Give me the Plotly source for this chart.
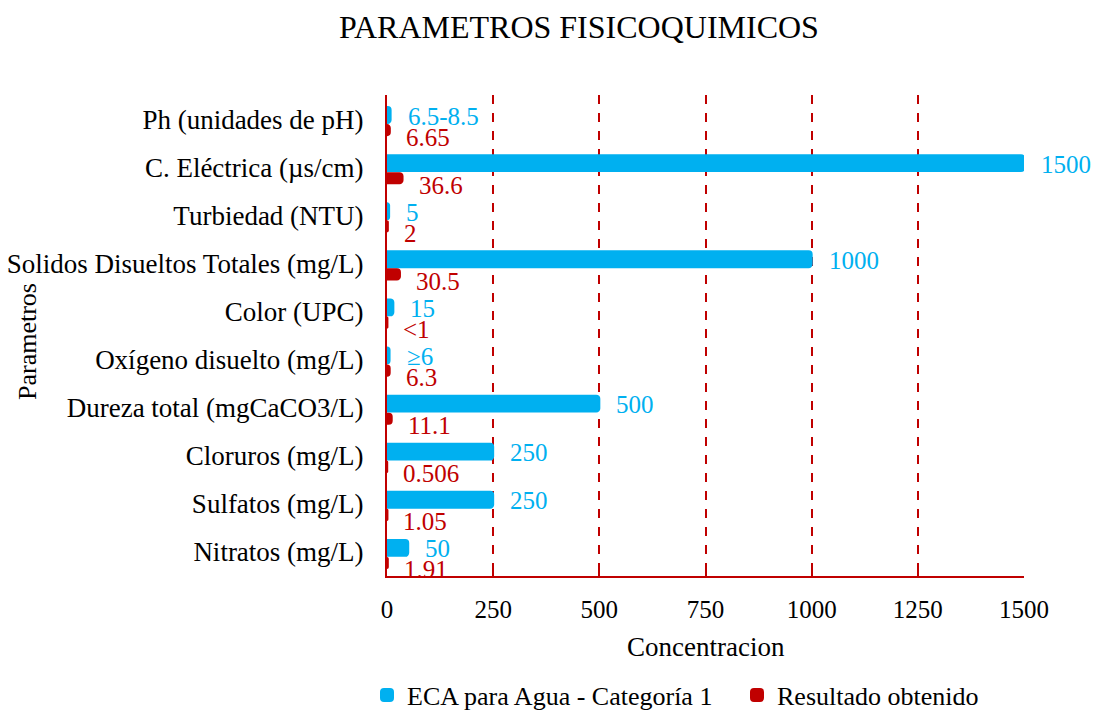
import plotly.graph_objects as go

categories = [
    "Ph (unidades de pH)",
    "C. Eléctrica (µs/cm)",
    "Turbiedad (NTU)",
    "Solidos Disueltos Totales (mg/L)",
    "Color (UPC)",
    "Oxígeno disuelto (mg/L)",
    "Dureza total (mgCaCO3/L)",
    "Cloruros (mg/L)",
    "Sulfatos (mg/L)",
    "Nitratos (mg/L)",
]
eca_values = [8.5, 1500, 5, 1000, 15, 6, 500, 250, 250, 50]
eca_labels = ["6.5-8.5", "1500", "5", "1000", "15", "≥6", "500", "250", "250", "50"]
res_values = [6.65, 36.6, 2, 30.5, 1, 6.3, 11.1, 0.506, 1.05, 1.91]
res_labels = ["6.65", "36.6", "2", "30.5", "<1", "6.3", "11.1", "0.506", "1.05", "1.91"]
x_ticks = [0, 250, 500, 750, 1000, 1250, 1500]

BLUE = "#00B0F0"
RED = "#C00000"
FONT = "Liberation Serif, Times New Roman, serif"

W, H = 1093, 710
PL, PR, PT, PB = 387, 1024, 95, 576

fig = go.Figure()
fig.add_trace(go.Bar(
    name="ECA para Agua - Categoría 1",
    y=categories, x=eca_values, orientation="h",
    marker=dict(color=BLUE, line=dict(color=BLUE, width=2), cornerradius=3),
    offset=-0.25, width=0.33, legend="legend",
))
fig.add_trace(go.Bar(
    name="Resultado obtenido",
    y=categories, x=res_values, orientation="h",
    marker=dict(color=RED, line=dict(color=RED, width=2), cornerradius=3),
    offset=0.125, width=0.21, legend="legend2",
))

annotations = []
for c, v, t in zip(categories, eca_values, eca_labels):
    annotations.append(dict(x=v, y=c, xref="x", yref="y", text=t, showarrow=False,
                            xanchor="left", yanchor="middle", xshift=15, yshift=3,
                            font=dict(family=FONT, size=25, color=BLUE)))
for c, v, t in zip(categories, res_values, res_labels):
    annotations.append(dict(x=v, y=c, xref="x", yref="y", text=t, showarrow=False,
                            xanchor="left", yanchor="middle", xshift=14, yshift=-18,
                            font=dict(family=FONT, size=25, color=RED)))
annotations.append(dict(x=(27 - PL) / (PR - PL), y=1 - (342 - PT) / (PB - PT),
                        xref="paper", yref="paper",
                        text="Parametros", textangle=-90, showarrow=False,
                        xanchor="center", yanchor="middle",
                        font=dict(family=FONT, size=26, color="black")))
annotations.append(dict(x=0.5, y=-(647 - PB) / (PB - PT),
                        xref="paper", yref="paper",
                        text="Concentracion", showarrow=False,
                        xanchor="center", yanchor="middle",
                        font=dict(family=FONT, size=27, color="black")))

legend_style = dict(orientation="h", xref="container", yref="container",
                    xanchor="left", y=1 - 695 / H, yanchor="middle",
                    font=dict(family=FONT, size=26, color="black"),
                    itemwidth=30, bgcolor="rgba(0,0,0,0)")

fig.update_layout(
    width=W, height=H,
    margin=dict(l=PL, r=W - PR, t=PT, b=H - PB, autoexpand=False),
    paper_bgcolor="white", plot_bgcolor="white",
    barmode="overlay",
    font=dict(family=FONT, size=26, color="black"),
    title=dict(text="PARAMETROS FISICOQUIMICOS", x=579 / W, xanchor="center",
               y=1 - 27 / H, yanchor="middle", yref="container", xref="container",
               font=dict(family=FONT, size=32, color="black")),
    showlegend=True,
    legend=dict(x=367 / W, **legend_style),
    legend2=dict(x=737 / W, **legend_style),
    annotations=annotations,
)
fig.update_xaxes(
    range=[0, 1500], tickvals=x_ticks, ticktext=[str(v) for v in x_ticks],
    showgrid=True, gridcolor=RED, griddash="dash", gridwidth=1.5,
    zeroline=False, showline=True, linecolor=RED, linewidth=2,
    ticks="inside", ticklen=5, tickcolor=RED, tickwidth=1.5,
    ticklabelstandoff=10,
    tickfont=dict(family=FONT, size=25, color="black"),
)
fig.update_yaxes(
    range=[len(categories) - 0.5, -0.5], showgrid=False, zeroline=False,
    showline=True, linecolor=RED, linewidth=2, ticks="",
    ticklabelstandoff=16,
    tickfont=dict(family=FONT, size=27, color="black"),
)

fig.write_html("out.html", config={"displayModeBar": False},
               post_script="document.body.style.margin='0';")
